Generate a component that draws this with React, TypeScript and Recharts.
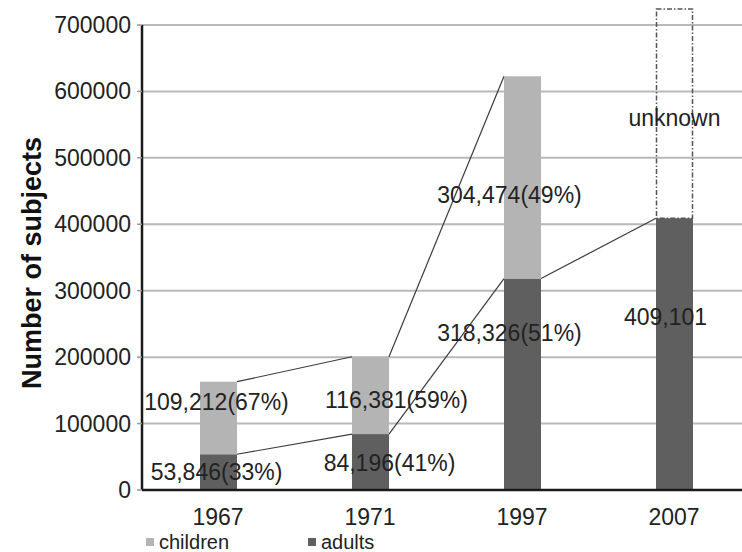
import React from "react";
import {
  Bar,
  BarChart,
  CartesianGrid,
  LabelList,
  ReferenceArea,
  XAxis,
  YAxis,
} from "recharts";

const years = ["1967", "1971", "1997", "2007"];
const adults = [53846, 84196, 318326, 409101];
const children: (number | null)[] = [109212, 116381, 304474, null];
const unknown: (number | null)[] = [null, null, null, 315000];
const adultsPct: (number | null)[] = [33, 41, 51, null];
const childrenPct: (number | null)[] = [67, 59, 49, null];
const yTicks = [0, 100000, 200000, 300000, 400000, 500000, 600000, 700000];

// hand-placed label nudges (px), like the original
const childLabelShift = [[-2, -16], [26, 5], [-13, 18], [0, 0]];
const adultLabelShift = [[-2, 0], [19, 1], [-13, -51], [-9, -37]];

const data = years.map((year, i) => ({
  year,
  adults: adults[i],
  children: children[i],
  unknown: unknown[i],
}));

const FONT = '"Liberation Sans", Arial, Helvetica, sans-serif';
const CHART_W = 750;
const CHART_H = 552;
const Y_W = 142;
const BAND = (CHART_W - Y_W) / years.length;
const CHILD_FILL = "#b4b4b4";
const ADULT_FILL = "#5f5f5f";
const LINK = "#3c3c3c";

const fmt = (v: number) => v.toLocaleString("en-US");

function AdultShape(props: any) {
  const { x, y, width, height, index } = props;
  const ppu = height / adults[index];
  const base = y + height;
  const next = adults[index + 1];
  return (
    <g>
      <rect x={x} y={y} width={width} height={height} fill={ADULT_FILL} />
      {next != null && (
        <line
          x1={x + width}
          y1={y}
          x2={x + BAND}
          y2={base - next * ppu}
          stroke={LINK}
          strokeWidth={1.2}
        />
      )}
    </g>
  );
}

function ChildShape(props: any) {
  const { x, y, width, height, index } = props;
  const c = children[index];
  if (c == null || !height) return <g />;
  const ppu = height / c;
  const base = y + height + adults[index] * ppu;
  const nc = children[index + 1];
  return (
    <g>
      <rect x={x} y={y} width={width} height={height} fill={CHILD_FILL} />
      {nc != null && (
        <line
          x1={x + width}
          y1={y}
          x2={x + BAND}
          y2={base - (adults[index + 1] + nc) * ppu}
          stroke={LINK}
          strokeWidth={1.2}
        />
      )}
    </g>
  );
}

function UnknownShape(props: any) {
  const { x, y, width, height, index } = props;
  if (unknown[index] == null || !height) return <g />;
  return (
    <rect
      x={x + 0.5}
      y={y}
      width={width - 1}
      height={height}
      fill="none"
      stroke="#555"
      strokeWidth={1.5}
      strokeDasharray="5 2 1.5 2"
    />
  );
}

const labelText = (props: any, text: string, shift: number[]) => {
  const { x, y, width, height } = props;
  return (
    <text
      x={x + width / 2 + shift[0]}
      y={y + height / 2 + shift[1]}
      textAnchor="middle"
      dominantBaseline="central"
      fontSize={23}
      fontFamily={FONT}
      fill="#222"
    >
      {text}
    </text>
  );
};

const AdultLabel = (props: any) => {
  const i = props.index;
  const pct = adultsPct[i];
  const text = pct == null ? fmt(adults[i]) : `${fmt(adults[i])}(${pct}%)`;
  return labelText(props, text, adultLabelShift[i]);
};

const ChildLabel = (props: any) => {
  const i = props.index;
  const c = children[i];
  if (c == null) return null;
  return labelText(props, `${fmt(c)}(${childrenPct[i]}%)`, childLabelShift[i]);
};

const UnknownLabel = (props: any) => {
  if (unknown[props.index] == null) return null;
  return labelText(props, "unknown", [0, 4]);
};

const XTick = (props: any) => (
  <text
    x={props.x}
    y={props.y + 25}
    textAnchor="middle"
    dominantBaseline="central"
    fontSize={23}
    fontFamily={FONT}
    fill="#222"
  >
    {props.payload.value}
  </text>
);

const YTick = (props: any) => (
  <text
    x={props.x}
    y={props.y}
    textAnchor="end"
    dominantBaseline="central"
    fontSize={23}
    fontFamily={FONT}
    fill="#222"
  >
    {props.payload.value}
  </text>
);

const YTitle = (props: any) => {
  const vb = props.viewBox;
  const cx = 32;
  const cy = vb.y + vb.height / 2 + 14;
  return (
    <text
      x={cx}
      y={cy}
      transform={`rotate(-90 ${cx} ${cy})`}
      textAnchor="middle"
      dominantBaseline="central"
      fontSize={27}
      fontWeight="bold"
      fontFamily={FONT}
      fill="#111"
    >
      Number of subjects
    </text>
  );
};

const legendItems = [
  { name: "children", color: CHILD_FILL, left: 146 },
  { name: "adults", color: ADULT_FILL, left: 308 },
];

export default function App() {
  return (
    <div
      style={{
        position: "fixed",
        left: 0,
        top: 0,
        width: 742,
        height: 552,
        overflow: "hidden",
        background: "#fff",
        fontFamily: FONT,
      }}
    >
      <BarChart
        width={CHART_W}
        height={CHART_H}
        data={data}
        barSize={37}
        margin={{ top: 8, right: 0, left: 0, bottom: 32 }}
      >
        <CartesianGrid
          vertical={false}
          horizontalValues={yTicks}
          stroke="#b9b9b9"
          strokeWidth={2}
        />
        <XAxis
          dataKey="year"
          height={30}
          tickLine={false}
          tickSize={0}
          axisLine={{ stroke: "#1a1a1a", strokeWidth: 2.5 }}
          tick={<XTick />}
        />
        <YAxis
          width={Y_W}
          domain={[0, 725600]}
          ticks={yTicks}
          interval={0}
          axisLine={false}
          tickLine={{ stroke: "#999", strokeWidth: 1.5 }}
          tickSize={5}
          tickMargin={6}
          tick={<YTick />}
          label={<YTitle />}
        />
        <ReferenceArea
          y1={0}
          y2={700000}
          fill="none"
          shape={(p: any) => (
            <line
              x1={p.x}
              y1={p.y}
              x2={p.x}
              y2={p.y + p.height}
              stroke="#1a1a1a"
              strokeWidth={2.5}
            />
          )}
        />
        <Bar
          dataKey="adults"
          stackId="a"
          fill={ADULT_FILL}
          shape={<AdultShape />}
          isAnimationActive={false}
        >
          <LabelList content={<AdultLabel />} />
        </Bar>
        <Bar
          dataKey="children"
          stackId="a"
          fill={CHILD_FILL}
          shape={<ChildShape />}
          isAnimationActive={false}
        >
          <LabelList content={<ChildLabel />} />
        </Bar>
        <Bar
          dataKey="unknown"
          stackId="a"
          fill="none"
          shape={<UnknownShape />}
          isAnimationActive={false}
        >
          <LabelList content={<UnknownLabel />} />
        </Bar>
      </BarChart>
      {legendItems.map((it) => (
        <div
          key={it.name}
          style={{
            position: "absolute",
            left: it.left,
            top: 530,
            display: "flex",
            alignItems: "center",
            fontSize: 20,
            color: "#222",
            lineHeight: "24px",
          }}
        >
          <span
            style={{
              display: "inline-block",
              width: 8,
              height: 8,
              background: it.color,
              marginRight: 5,
            }}
          />
          {it.name}
        </div>
      ))}
    </div>
  );
}
